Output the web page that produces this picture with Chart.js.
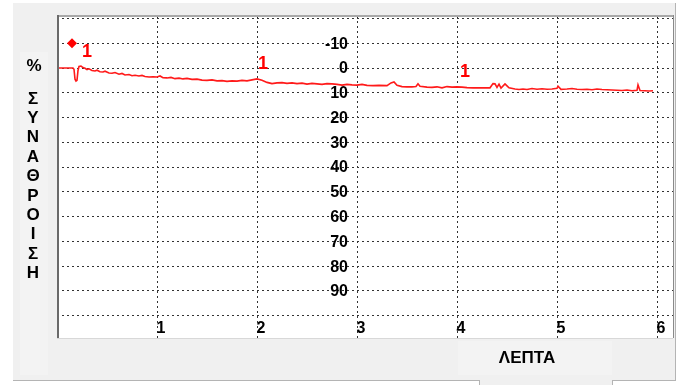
<!DOCTYPE html>
<html>
<head>
<meta charset="utf-8">
<script src="https://cdn.jsdelivr.net/npm/chart.js@4.4.1/dist/chart.umd.min.js"></script>
<style>
html,body{margin:0;padding:0;background:#ffffff;}
canvas{display:block;}
</style>
</head>
<body>
<canvas id="c" width="678" height="385"></canvas>
<script>
// ---- data (minutes vs % aggregation) ----
const times = [0.00,0.16,0.17,0.18,0.19,0.20,0.21,0.22,0.24,0.26,0.28,0.30,0.32,0.35,0.38,0.40,0.43,0.46,0.48,0.52,0.55,0.58,0.62,0.65,0.68,0.72,0.75,0.78,0.82,0.85,0.88,0.92,0.96,1.00,1.03,1.06,1.10,1.14,1.18,1.22,1.26,1.30,1.35,1.40,1.45,1.50,1.55,1.60,1.65,1.70,1.75,1.80,1.85,1.90,1.95,2.00,2.05,2.10,2.15,2.20,2.25,2.30,2.35,2.40,2.45,2.50,2.55,2.60,2.65,2.70,2.75,2.80,2.85,2.90,2.95,3.00,3.05,3.10,3.16,3.22,3.30,3.34,3.37,3.40,3.45,3.50,3.55,3.59,3.61,3.63,3.70,3.75,3.80,3.85,3.90,3.95,4.00,4.05,4.10,4.16,4.25,4.33,4.36,4.38,4.40,4.42,4.44,4.48,4.50,4.52,4.58,4.62,4.66,4.70,4.75,4.80,4.85,4.90,4.95,5.00,5.01,5.04,5.10,5.15,5.20,5.25,5.30,5.35,5.40,5.45,5.50,5.55,5.60,5.65,5.70,5.75,5.80,5.81,5.83,5.88,5.92,5.96];
const percent = [0,0,0.5,4.5,5.3,5.0,1.0,-0.6,-0.8,-0.2,0.1,0.6,0.3,1.0,1.2,0.9,1.5,1.6,1.3,2.0,2.1,1.8,2.5,2.2,2.8,2.6,3.1,2.9,3.2,3.0,3.4,3.6,3.5,3.6,3.2,3.9,4.0,3.8,4.3,4.1,4.4,4.2,4.6,4.5,4.9,5.0,4.8,5.2,5.1,5.4,5.2,5.3,5.0,5.2,4.8,4.4,4.9,5.8,6.3,6.0,5.9,6.2,6.0,6.3,6.1,6.5,6.2,6.4,6.6,6.3,6.4,6.6,6.9,6.6,6.8,6.9,6.6,7.0,7.1,7.0,7.1,6.0,5.6,7.0,7.5,7.6,7.6,7.5,6.4,7.4,7.7,7.8,7.6,8.0,7.5,7.7,7.6,7.7,7.9,8.0,8.0,8.0,6.3,6.4,7.8,6.5,8.1,6.4,7.2,8.0,8.5,8.7,8.5,8.7,8.3,8.6,8.4,8.6,8.5,8.2,7.3,8.6,8.5,8.3,8.6,8.7,8.6,8.8,8.5,8.7,8.8,8.9,9.0,9.1,8.9,9.2,9.0,6.8,9.1,9.2,9.3,9.2];
const diamondX = [0.15];
const diamondY = [-10];
const markerX = [0.30, 2.06, 4.08];
const markerY = [-6.7, -2.2, 1.1];
const markerText = ['1', '1', '1'];
const xTicks = [1, 2, 3, 4, 5, 6];
const yGrid = [-20, -10, 0, 10, 20, 30, 40, 50, 60, 70, 80, 90, 100];
const yTickLabels = [-10, 0, 10, 20, 30, 40, 50, 60, 70, 80, 90];
const yLabelAtX = 3;
const yTitleTop = '%';
const yTitleLetters = ['Σ','Υ','Ν','Α','Θ','Ρ','Ο','Ι','Σ','Η'];
const xTitle = 'ΛΕΠΤΑ';

const FONT = '"Liberation Sans", Arial, sans-serif';

const framePlugin = {
  id: 'frame',
  beforeDraw(chart) {
    const ctx = chart.ctx;
    const a = chart.chartArea;
    ctx.save();
    ctx.fillStyle = '#ffffff';
    ctx.fillRect(0, 0, chart.width, chart.height);
    ctx.fillStyle = '#f0f0f0';
    ctx.fillRect(13, 3, 662, 377);
    ctx.fillRect(479, 380, 133, 5);
    ctx.fillStyle = '#f3f3f3';
    ctx.fillRect(20, 52, 28, 323);
    ctx.fillRect(458, 341, 154, 34);
    ctx.fillStyle = '#ffffff';
    ctx.fillRect(a.left, a.top, a.right - a.left, a.bottom - a.top);
    ctx.restore();
  },
  afterDraw(chart) {
    const ctx = chart.ctx;
    const a = chart.chartArea;
    ctx.save();
    // plot borders
    ctx.fillStyle = '#a8a8a8';
    ctx.fillRect(a.left, a.top - 1, a.right - a.left, 2);
    ctx.fillStyle = '#6a6a6a';
    ctx.fillRect(a.left, a.top - 1, 2, a.bottom - a.top + 1);
    ctx.fillStyle = '#d8d8d8';
    ctx.fillRect(a.left, a.bottom, a.right - a.left, 1);
    ctx.fillStyle = '#8a8a8a';
    ctx.fillRect(a.right, a.top - 1, 1, a.bottom - a.top + 1);
    // bottom outer lines
    ctx.fillStyle = '#b4b4b4';
    ctx.fillRect(13, 380, 466, 1);
    ctx.fillRect(479, 380, 1, 5);
    ctx.fillRect(612, 380, 63, 1);
    ctx.fillRect(612, 380, 1, 5);
    ctx.fillRect(675, 3, 1, 378);

    const xs = chart.scales.x, ys = chart.scales.y;
    // y tick labels inside plot
    ctx.fillStyle = '#000000';
    ctx.font = 'bold 16px ' + FONT;
    ctx.textAlign = 'right';
    ctx.textBaseline = 'middle';
    const lx = xs.getPixelForValue(yLabelAtX) - 9;
    yTickLabels.forEach(v => {
      ctx.fillText(String(v), lx, ys.getPixelForValue(v) + 1);
    });
    // x tick labels
    ctx.textAlign = 'center';
    xTicks.forEach(v => {
      ctx.fillText(String(v), xs.getPixelForValue(v) + 4, a.bottom - 9);
    });
    // markers
    ctx.fillStyle = '#ff0000';
    ctx.font = 'bold 18px ' + FONT;
    markerX.forEach((mx, i) => {
      ctx.fillText(markerText[i], xs.getPixelForValue(mx), ys.getPixelForValue(markerY[i]) + 1);
    });
    // axis titles
    ctx.fillStyle = '#000000';
    ctx.font = 'bold 17px ' + FONT;
    ctx.fillText(yTitleTop, 34, 66);
    yTitleLetters.forEach((ch, i) => {
      ctx.fillText(ch, 33, 99 + i * 19.4);
    });
    ctx.fillText(xTitle, 527, 358);
    ctx.restore();
  }
};

new Chart(document.getElementById('c'), {
  type: 'scatter',
  data: {
    datasets: [
      {
        data: times.map((t, i) => ({x: t, y: percent[i]})),
        showLine: true,
        borderColor: '#ff1a1a',
        borderWidth: 1.6,
        pointRadius: 0,
        tension: 0
      },
      {
        data: diamondX.map((t, i) => ({x: t, y: diamondY[i]})),
        showLine: false,
        pointStyle: 'rectRot',
        pointRadius: 5,
        backgroundColor: '#ff0000',
        borderColor: '#ff0000',
        borderWidth: 0
      }
    ]
  },
  options: {
    responsive: false,
    animation: false,
    devicePixelRatio: 1,
    layout: {padding: {left: 57, top: 16, right: 5, bottom: 47}},
    plugins: {legend: {display: false}, tooltip: {enabled: false}},
    scales: {
      x: {
        type: 'linear',
        min: 0,
        max: 6.16,
        ticks: {display: false},
        grid: {color: '#333333', lineWidth: 1, drawTicks: false},
        border: {display: false, dash: [2, 3]},
        afterBuildTicks: s => { s.ticks = xTicks.map(v => ({value: v})); }
      },
      y: {
        type: 'linear',
        min: -21,
        max: 109,
        reverse: true,
        ticks: {display: false},
        grid: {color: '#333333', lineWidth: 1, drawTicks: false},
        border: {display: false, dash: [2, 3]},
        afterBuildTicks: s => { s.ticks = yGrid.map(v => ({value: v})); }
      }
    }
  },
  plugins: [framePlugin]
});
</script>
</body>
</html>
